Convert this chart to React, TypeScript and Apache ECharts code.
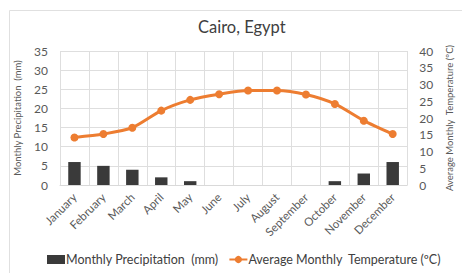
import React, { useEffect, useRef } from "react";
import * as echarts from "echarts";

const months = ["January","February","March","April","May","June","July","August","September","October","November","December"];
const precipitation = [6, 5, 4, 2, 1, 0, 0, 0, 0, 1, 3, 6];
const temperature = [14.2, 15.2, 17.1, 22.2, 25.4, 27.1, 28.2, 28.2, 27.0, 24.2, 19.2, 15.2];
const precipTicks = { min: 0, max: 35, interval: 5 };
const tempTicks = { min: 0, max: 40, interval: 5 };

const FONT = "Lato, 'Open Sans', sans-serif";

export default function App() {
  const ref = useRef<HTMLDivElement>(null);
  useEffect(() => {
    document.body.style.margin = "0";
    const chart = echarts.init(ref.current!, null, { renderer: "svg" });
    chart.setOption({
      animation: false,
      backgroundColor: "#fff",
      textStyle: { fontFamily: FONT },
      title: {
        text: "Cairo, Egypt",
        left: 193,
        top: 13,
        textStyle: { fontSize: 16.5, fontWeight: "normal", color: "#404040", fontFamily: FONT },
      },
      graphic: [
        { type: "rect", shape: { x: 9.5, y: 10.5, width: 460, height: 270 }, style: { fill: "none", stroke: "#e0e0e0", lineWidth: 1 }, silent: true },
      ],
      grid: { left: 60, right: 42, top: 51, bottom: 88 },
      legend: {
        bottom: 2,
        left: 42,
        width: 450,
        itemGap: 10,
        itemWidth: 18,
        itemHeight: 9,
        textStyle: { fontSize: 12.5, color: "#404040", fontFamily: FONT, padding: [0, 0, 0, -4] },
        data: [
          { name: "Monthly Precipitation  (mm)", icon: "rect", itemStyle: { color: "#3a3a3a" } },
          { name: "Average Monthly  Temperature (ºC)" },
        ],
      },
      xAxis: {
        type: "category",
        data: months,
        boundaryGap: true,
        axisLine: { lineStyle: { color: "#d9d9d9" } },
        axisTick: { show: false },
        splitLine: { show: true, lineStyle: { color: "#dedede" } },
        axisLabel: { rotate: 45, fontSize: 11.5, color: "#595959", margin: 10, interval: 0, fontFamily: FONT },
      },
      yAxis: [
        {
          type: "value",
          ...precipTicks,
          name: "Monthly Precipitation  (mm)",
          nameLocation: "middle",
          nameGap: 38,
          nameTextStyle: { fontSize: 9.5, color: "#595959", fontFamily: FONT },
          axisLine: { show: false },
          axisTick: { show: false },
          splitLine: { lineStyle: { color: "#dedede" } },
          axisLabel: { fontSize: 12, color: "#595959", margin: 12, fontFamily: FONT },
        },
        {
          type: "value",
          ...tempTicks,
          name: "Average Monthly  Temperature (ºC)",
          nameLocation: "middle",
          nameGap: 31,
          nameRotate: 90,
          nameTextStyle: { fontSize: 9.5, color: "#595959", fontFamily: FONT },
          axisLine: { show: false },
          axisTick: { show: false },
          splitLine: { show: false },
          axisLabel: { fontSize: 12, color: "#595959", margin: 12, fontFamily: FONT },
        },
      ],
      series: [
        {
          name: "Monthly Precipitation  (mm)",
          type: "bar",
          yAxisIndex: 0,
          data: precipitation,
          barWidth: "43%",
          itemStyle: { color: "#3a3a3a" },
        },
        {
          name: "Average Monthly  Temperature (ºC)",
          type: "line",
          yAxisIndex: 1,
          data: temperature,
          smooth: 0.25,
          symbol: "circle",
          symbolSize: 8,
          lineStyle: { color: "#ed7d31", width: 3 },
          itemStyle: { color: "#ed7d31" },
        },
      ],
    });
    return () => chart.dispose();
  }, []);
  return <div ref={ref} style={{ width: 462, height: 273 }} />;
}
